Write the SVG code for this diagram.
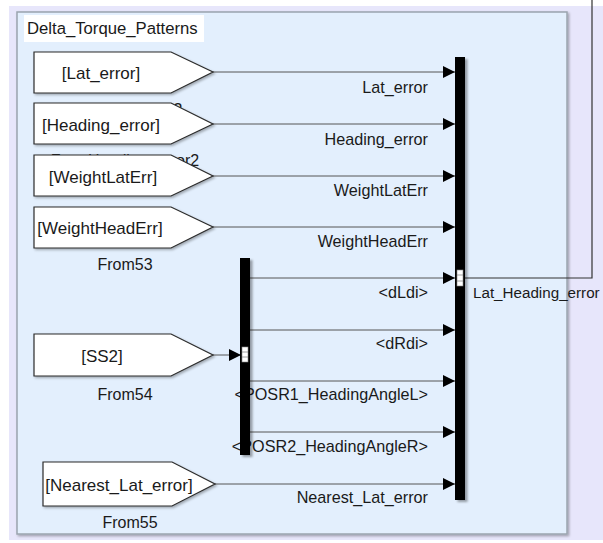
<svg xmlns="http://www.w3.org/2000/svg" width="603" height="543" viewBox="0 0 603 543">
<style>
text{font-family:"Liberation Sans",Arial,sans-serif;fill:#1a1a1a}
.blk{fill:#ffffff;stroke:#2b2b2b;stroke-width:1.2;filter:url(#sh)}
.bt{font-size:17px;text-anchor:middle}
.nm{font-size:16px;text-anchor:middle}
.sl{font-size:16.2px;text-anchor:end}
.ln{fill:none;stroke:#555;stroke-width:1}
.bar{fill:#000;filter:url(#sh2)}
.port{fill:#fff;stroke:#888;stroke-width:0.6}
</style>
<defs>
<filter id="sh" x="-10%" y="-10%" width="130%" height="140%"><feDropShadow dx="1.5" dy="1.5" stdDeviation="1" flood-color="#000" flood-opacity="0.3"/></filter>
<filter id="sh2" x="-50%" y="-5%" width="250%" height="115%"><feDropShadow dx="2.5" dy="2" stdDeviation="1.2" flood-color="#000" flood-opacity="0.35"/></filter>
<marker id="ar" viewBox="0 0 12 12" refX="12" refY="6" markerWidth="12" markerHeight="12" markerUnits="userSpaceOnUse" orient="auto"><path d="M0,0 L12,6 L0,12 Z" fill="#000"/></marker>
</defs>
<rect x="0" y="0" width="603" height="543" fill="#ffffff"/>
<rect x="9" y="6" width="594" height="534" fill="#e7e6fb"/>
<rect id="subsystem" x="17" y="12" width="550" height="522" fill="#e3effd" stroke="#9ba4ae" stroke-width="1.5" filter="url(#sh)"/>
<g id="title"><rect x="24" y="15" width="180" height="27" fill="#ffffff"/><text x="27" y="34" style="font-size:16.7px">Delta_Torque_Patterns</text></g>

<g id="connectors">
<line class="ln" x1="213" y1="72" x2="455" y2="72" marker-end="url(#ar)"/>
<line class="ln" x1="213" y1="124" x2="455" y2="124" marker-end="url(#ar)"/>
<line class="ln" x1="213" y1="176" x2="455" y2="176" marker-end="url(#ar)"/>
<line class="ln" x1="213" y1="227" x2="455" y2="227" marker-end="url(#ar)"/>
<line class="ln" x1="250" y1="278" x2="455" y2="278" marker-end="url(#ar)"/>
<line class="ln" x1="250" y1="330" x2="455" y2="330" marker-end="url(#ar)"/>
<line class="ln" x1="250" y1="381" x2="455" y2="381" marker-end="url(#ar)"/>
<line class="ln" x1="250" y1="432" x2="455" y2="432" marker-end="url(#ar)"/>
<line class="ln" x1="215" y1="484" x2="455" y2="484" marker-end="url(#ar)"/>
<line class="ln" x1="213" y1="355" x2="241" y2="355" marker-end="url(#ar)"/>
<polyline points="465,278 592,278 592,0" fill="none" stroke="#333" stroke-width="1.2"/>
<text class="sl" x="428" y="93">Lat_error</text>
<text class="sl" x="428" y="145">Heading_error</text>
<text class="sl" x="428" y="196">WeightLatErr</text>
<text class="sl" x="428" y="247">WeightHeadErr</text>
<text class="sl" x="428" y="298">&lt;dLdi&gt;</text>
<text class="sl" x="428" y="349">&lt;dRdi&gt;</text>
<text class="sl" x="428" y="400">&lt;POSR1_HeadingAngleL&gt;</text>
<text class="sl" x="428" y="452">&lt;POSR2_HeadingAngleR&gt;</text>
<text class="sl" x="428" y="503">Nearest_Lat_error</text>
<text x="473" y="298" style="font-size:15.2px">Lat_Heading_error</text>
</g>

<g id="From50">
<path class="blk" d="M34,52 H171 L213,72 L171,93 H34 Z"/>
<text class="bt" x="101" y="79">[Lat_error]</text>
<text class="nm" x="125" y="115" style="font-size:16.5px">FromLat_error2</text>
</g>
<g id="From51">
<path class="blk" d="M34,103 H171 L213,124 L171,144 H34 Z"/>
<text class="bt" x="101" y="131">[Heading_error]</text>
<text class="nm" x="125" y="166">FromHeading_error2</text>
</g>
<g id="From52">
<path class="blk" d="M34,155 H171 L213,176 L171,196 H34 Z"/>
<text class="bt" x="103" y="183">[WeightLatErr]</text>
</g>
<g id="From53">
<path class="blk" d="M34,207 H171 L213,227 L171,248 H34 Z"/>
<text class="bt" x="100" y="234">[WeightHeadErr]</text>
<text class="nm" x="125" y="270">From53</text>
</g>
<g id="From54">
<path class="blk" d="M34,334 H171 L213,355 L171,376 H34 Z"/>
<text class="bt" x="102" y="362">[SS2]</text>
<text class="nm" x="125" y="400">From54</text>
</g>
<g id="From55">
<path class="blk" d="M43,462 H172 L215,484 L172,506 H43 Z"/>
<text class="bt" x="119" y="491">[Nearest_Lat_error]</text>
<text class="nm" x="130" y="528">From55</text>
</g>

<g id="Demux">
<rect class="bar" x="240" y="258" width="10" height="197"/>
<rect class="port" x="242" y="347" width="6" height="15"/>
<line x1="242" y1="352" x2="248" y2="352" stroke="#888" stroke-width="0.8"/>
<line x1="242" y1="357" x2="248" y2="357" stroke="#888" stroke-width="0.8"/>
</g>
<g id="Mux">
<rect class="bar" x="455" y="57" width="10" height="443"/>
<rect class="port" x="457" y="270" width="6" height="16"/>
<line x1="457" y1="275" x2="463" y2="275" stroke="#888" stroke-width="0.8"/>
<line x1="457" y1="281" x2="463" y2="281" stroke="#888" stroke-width="0.8"/>
</g>
</svg>
